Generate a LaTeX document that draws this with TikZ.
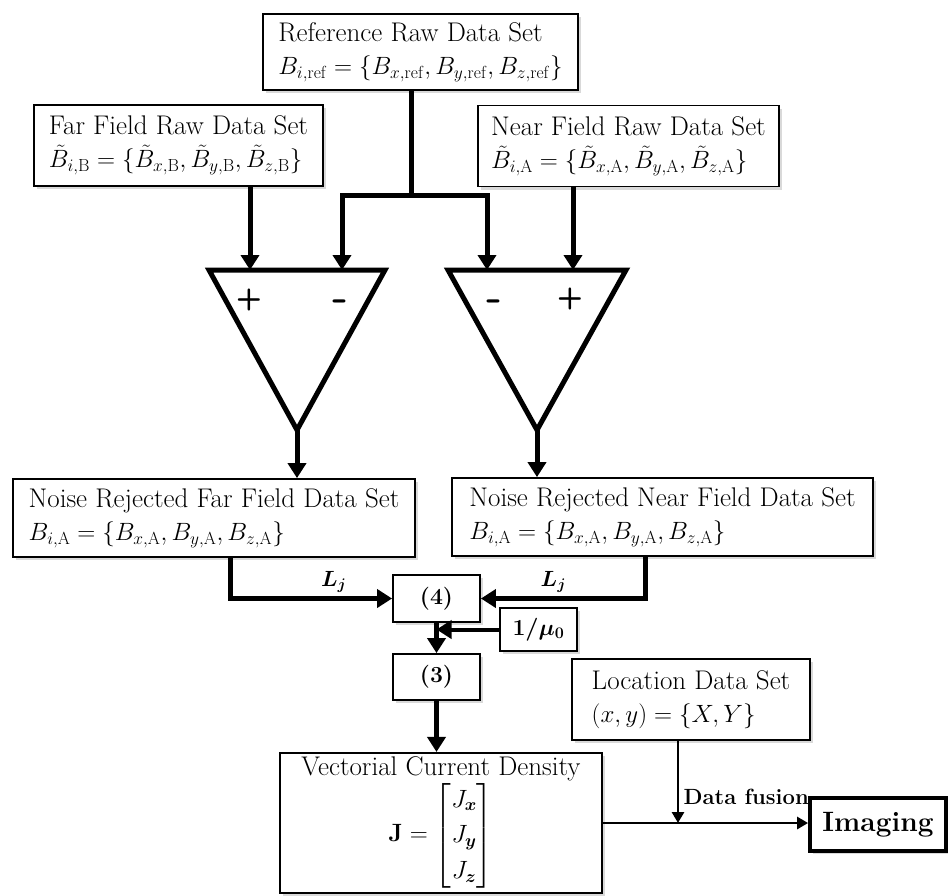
\RequirePackage{fix-cm}
\documentclass[tikz,border=0pt]{standalone}
\usepackage{amsmath}
\usetikzlibrary{
    arrows.meta,   % For arrow tips
    positioning,   % For relative placement
    shadows,       % For drop shadows of the boxes
    calc           % For coordinate calculations
}
\newcommand{\mathsz}{\fontsize{25}{33}\selectfont} % size of the formula lines

\begin{document}
\begin{tikzpicture}[
    x=1pt, y=-1pt, % one unit = one pixel of the original, y pointing down
    >={Triangle[length=15pt,width=18pt]}, % Set default arrow tip style
    databox/.style={draw, line width=1.8pt, fill=white, align=left, inner sep=4pt,
        font=\fontsize{27}{33}\selectfont,
        drop shadow={shadow xshift=3pt, shadow yshift=-3pt, opacity=0.3}}, % Style for data boxes
    eqbox/.style={databox, align=center, font=\fontsize{23}{28}\selectfont\bfseries}, % Style for equation boxes
    flow/.style={->, line width=5pt},  % Thick arrows
    thinflow/.style={-{Triangle[length=11pt,width=12pt]}, line width=2.8pt}, % Arrows of the fusion step
    amp/.style={line width=5pt, line join=miter}, % Style for the subtractors
    plussign/.style={font=\fontsize{30}{30}\selectfont\sffamily\bfseries}, % Style for +
    minussign/.style={font=\fontsize{44}{44}\selectfont\sffamily\bfseries}, % Style for -
    lbl/.style={font=\fontsize{22}{26}\selectfont\bfseries} % Style for arrow labels
]
    \useasboundingbox (0,0) rectangle (948,895);

    % Raw data sets
    \node[databox, minimum width=315pt, minimum height=76pt] (ref) at (420.5,52)
        {Reference Raw Data Set\\ \mathsz $B_{i,\mathrm{ref}}=\{B_{x,\mathrm{ref}},B_{y,\mathrm{ref}},B_{z,\mathrm{ref}}\}$};
    \node[databox, minimum width=289pt, minimum height=81pt] (far) at (178.5,145.5)
        {Far Field Raw Data Set\\ \mathsz $\tilde{B}_{i,\mathrm{B}}=\{\tilde{B}_{x,\mathrm{B}},\tilde{B}_{y,\mathrm{B}},\tilde{B}_{z,\mathrm{B}}\}$};
    \node[databox, minimum width=301pt, minimum height=81pt] (near) at (628.5,146)
        {Near Field Raw Data Set\\ \mathsz $\tilde{B}_{i,\mathrm{A}}=\{\tilde{B}_{x,\mathrm{A}},\tilde{B}_{y,\mathrm{A}},\tilde{B}_{z,\mathrm{A}}\}$};

    % Subtractors
    \coordinate (plusB) at (250,270);
    \coordinate (minusB) at (342,270);
    \coordinate (minusA) at (487,270);
    \coordinate (plusA) at (573,270);
    \coordinate (outB) at (297,430);
    \coordinate (outA) at (537,430);
    \draw[amp] (209,270) -- (385,270) -- (outB) -- cycle;
    \draw[amp] (448,270) -- (626,270) -- (outA) -- cycle;
    \node[plussign] at (249,300) {+};
    \node[minussign] at (341,306) {-};
    \node[minussign] at (495,306) {-};
    \node[plussign] at (570,299) {+};

    % Noise rejected data sets
    \node[databox, minimum width=402pt, minimum height=78pt] (nrfar) at (214,518)
        {Noise Rejected Far Field Data Set\\ \mathsz $B_{i,\mathrm{A}}=\{B_{x,\mathrm{A}},B_{y,\mathrm{A}},B_{z,\mathrm{A}}\}$};
    \node[databox, minimum width=421pt, minimum height=78pt] (nrnear) at (662.5,517)
        {Noise Rejected Near Field Data Set\\ \mathsz $B_{i,\mathrm{A}}=\{B_{x,\mathrm{A}},B_{y,\mathrm{A}},B_{z,\mathrm{A}}\}$};

    % Equations
    \node[eqbox, minimum width=87pt, minimum height=47pt] (eq4) at (436.5,598.5) {(4)};
    \node[eqbox, minimum width=77pt, minimum height=43pt] (mu) at (538.5,629.5) {$\boldsymbol{1/\mu_0}$};
    \node[eqbox, minimum width=87pt, minimum height=46pt] (eq3) at (436.5,677) {(3)};

    % Results
    \node[databox, align=center, minimum width=322pt, minimum height=140pt] (vcd) at (441,823)
        {Vectorial Current Density\\
         \fontsize{25}{31}\selectfont
         $\renewcommand{\arraystretch}{1.15}\mathbf{J}=\begin{bmatrix}J_{\boldsymbol{x}}\\ J_{\boldsymbol{y}}\\ J_{\boldsymbol{z}}\end{bmatrix}$};
    \node[databox, minimum width=238pt, minimum height=81pt] (loc) at (691,699.5)
        {Location Data Set\\ \mathsz $(x,y)=\{X,Y\}$};
    \node[databox, line width=3.8pt, font=\fontsize{28}{32}\selectfont\bfseries,
        minimum width=136pt, minimum height=53pt] (img) at (878,824.5) {Imaging};

    % Connectors
    \coordinate (split) at (411,195);
    \draw[line width=5pt] (ref.south -| split) -- (split);
    \draw[flow] (split) -| (minusB);
    \draw[flow] (split) -| (minusA);
    \draw[flow] (far.south -| plusB) -- (plusB);
    \draw[flow] (near.south -| plusA) -- (plusA);
    \draw[flow] (outB) -- (outB |- nrfar.north);
    \draw[flow] (outA) -- (outA |- nrnear.north);

    \draw[flow] ([xshift=16pt]nrfar.south) |- (eq4.west)
        node[lbl, above, pos=0.82] {$\boldsymbol{L_j}$};
    \draw[flow] ([xshift=-17pt]nrnear.south) |- (eq4.east)
        node[lbl, above, pos=0.78] {$\boldsymbol{L_j}$};
    \draw[flow] (eq4) -- (eq3);
    \draw[flow, line width=4pt] (mu.west) -- (mu.west -| eq4.south);
    \draw[flow] (eq3.south) -- (eq3.south |- vcd.north);

    \draw[thinflow] (vcd.east) -- (vcd.east -| img.west);
    \draw[thinflow] ([xshift=-13pt]loc.south) -- ([xshift=-13pt]loc.south |- vcd.east)
        node[lbl, pos=0.78, anchor=base west, xshift=1pt] {Data fusion};

\end{tikzpicture}
\end{document}
